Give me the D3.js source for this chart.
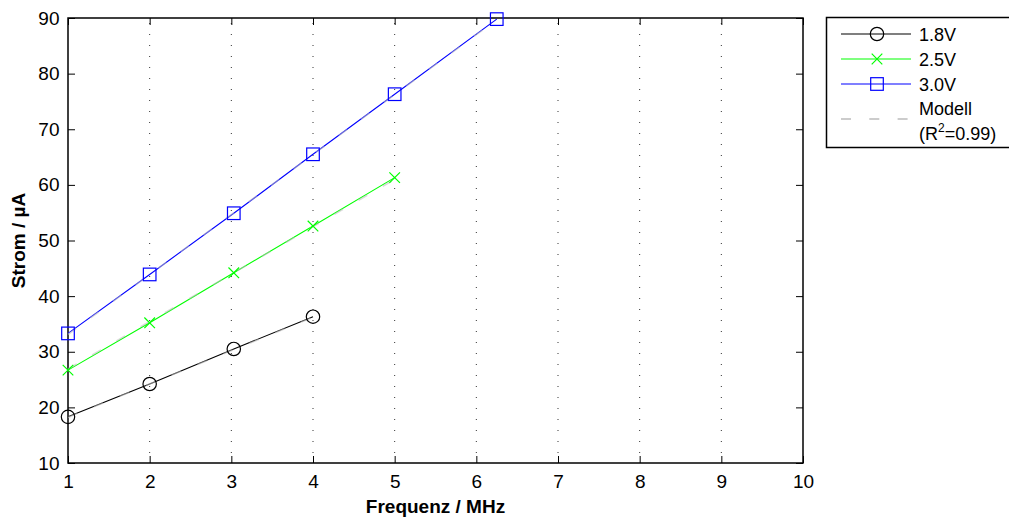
<!DOCTYPE html>
<html>
<head>
<meta charset="utf-8">
<script src="https://cdn.jsdelivr.net/npm/d3@7"></script>
<style>
  body { margin:0; background:#fff; }
  text { font-family: "Liberation Sans", Arial, sans-serif; fill:#000; }
</style>
</head>
<body>
<svg id="chart" width="1009" height="519"></svg>
<script>
// values
var freqs = [1, 2, 3.03, 4, 5, 6.25];
var strom18 = [18.3, 24.2, 30.5, 36.3];
var strom25 = [26.7, 35.2, 44.2, 52.6, 61.3];
var strom30 = [33.3, 43.9, 54.9, 65.5, 76.3, 89.8];
var modell18 = [18.2, 36.2];   // fit at first and last frequency
var modell25 = [26.9, 61.0];
var modell30 = [33.1, 89.7];
var seriesNames = ["1.8V", "2.5V", "3.0V"];
var seriesColors = ["#000000", "#00ff00", "#0000ff"];
var seriesMarkers = ["circle", "cross", "square"];
var xTicks = [1, 2, 3, 4, 5, 6, 7, 8, 9, 10];
var yTicks = [10, 20, 30, 40, 50, 60, 70, 80, 90];

var svg = d3.select("#chart");
var m = {left:68, top:18, right:803, bottom:463};
var x = d3.scaleLinear().domain([1,10]).range([m.left,m.right]);
var y = d3.scaleLinear().domain([10,90]).range([m.bottom,m.top]);

// dotted vertical grid
svg.append("g").selectAll("line").data(xTicks.slice(1,-1)).enter().append("line")
  .attr("x1",d=>x(d)).attr("x2",d=>x(d)).attr("y1",m.top).attr("y2",m.bottom)
  .attr("stroke","#333").attr("stroke-width",1).attr("stroke-dasharray","1,10").attr("stroke-dashoffset",-5);

// axes with inward ticks
var fmt = d3.format("d");
var gB = svg.append("g").attr("transform",`translate(0,${m.bottom})`)
  .call(d3.axisBottom(x).tickValues(xTicks).tickFormat(fmt).tickSizeInner(-7).tickSizeOuter(0).tickPadding(12));
var gT = svg.append("g").attr("transform",`translate(0,${m.top})`)
  .call(d3.axisTop(x).tickValues(xTicks).tickFormat("").tickSizeInner(-7).tickSizeOuter(0));
var gL = svg.append("g").attr("transform",`translate(${m.left},0)`)
  .call(d3.axisLeft(y).tickValues(yTicks).tickFormat(fmt).tickSizeInner(-7).tickSizeOuter(0).tickPadding(8.5));
var gR = svg.append("g").attr("transform",`translate(${m.right},0)`)
  .call(d3.axisRight(y).tickValues(yTicks).tickFormat("").tickSizeInner(-7).tickSizeOuter(0));
[gB,gT,gL,gR].forEach(function(g){
  g.select(".domain").remove();
  g.selectAll(".tick line").attr("stroke","#000").attr("stroke-width",1);
  g.selectAll("text").style("font-size","19px").style("font-family","Liberation Sans, Arial, sans-serif").attr("fill","#000");
});
svg.append("rect").attr("x",m.left).attr("y",m.top).attr("width",m.right-m.left).attr("height",m.bottom-m.top)
  .attr("fill","none").attr("stroke","#000").attr("stroke-width",1.5);

function marker(g, type, color, cx, cy) {
  if (type=="circle")
    g.append("circle").attr("cx",cx).attr("cy",cy).attr("r",6.7).attr("fill","none").attr("stroke",color).attr("stroke-width",1.2);
  else if (type=="square")
    g.append("rect").attr("x",cx-6.3).attr("y",cy-6.3).attr("width",12.6).attr("height",12.6).attr("fill","none").attr("stroke",color).attr("stroke-width",1.2);
  else {
    var s = 5.3;
    g.append("path").attr("d",`M${cx-s},${cy-s}L${cx+s},${cy+s}M${cx-s},${cy+s}L${cx+s},${cy-s}`).attr("stroke",color).attr("stroke-width",1.2);
  }
}

var data = [strom18, strom25, strom30];
var modelle = [modell18, modell25, modell30];
var line = d3.line().x(d=>x(d[0])).y(d=>y(d[1]));
data.forEach(function(vals,i){
  var pts = vals.map((v,j)=>[freqs[j],v]);
  var g = svg.append("g");
  g.append("path").datum(pts).attr("d",line).attr("fill","none").attr("stroke",seriesColors[i]).attr("stroke-width",1.1);
  var mp = [[freqs[0],modelle[i][0]],[freqs[vals.length-1],modelle[i][1]]];
  g.append("path").datum(mp).attr("d",line).attr("fill","none").attr("stroke","#bbbbbb").attr("stroke-opacity",0.55)
    .attr("stroke-width",1.6).attr("stroke-dasharray","10,18");
  pts.forEach(p=>marker(g, seriesMarkers[i], seriesColors[i], x(p[0]), y(p[1])));
});

// axis titles
svg.append("text").attr("x",(m.left+m.right)/2).attr("y",513).attr("text-anchor","middle")
  .style("font-size","19px").style("font-weight","bold").text("Frequenz / MHz");
svg.append("text").attr("transform",`translate(25,${(m.top+m.bottom)/2}) rotate(-90)`).attr("text-anchor","middle")
  .style("font-size","19px").style("font-weight","bold").text("Strom / µA");

// legend
var lg = svg.append("g");
lg.append("rect").attr("x",826.5).attr("y",17.5).attr("width",200).attr("height",130).attr("fill","#fff").attr("stroke","#000").attr("stroke-width",1.5);
var rows = [34, 59, 84];
seriesNames.forEach(function(n,i){
  lg.append("line").attr("x1",841).attr("x2",911).attr("y1",rows[i]).attr("y2",rows[i]).attr("stroke",seriesColors[i]).attr("stroke-width",1.1);
  marker(lg, seriesMarkers[i], seriesColors[i], 877, rows[i]);
  lg.append("text").attr("x",919).attr("y",rows[i]+6.5).style("font-size","18px").text(n);
});
lg.append("line").attr("x1",841).attr("x2",911).attr("y1",119).attr("y2",119).attr("stroke","#999").attr("stroke-width",1.1).attr("stroke-dasharray","10,18.3");
lg.append("text").attr("x",919).attr("y",115).style("font-size","18px").text("Modell");
var r2 = lg.append("text").attr("x",919).attr("y",139.5).style("font-size","18px");
r2.append("tspan").text("(R");
r2.append("tspan").attr("dy",-8).style("font-size","12px").text("2");
r2.append("tspan").attr("dy",8).text("=0.99)");
</script>
</body>
</html>
